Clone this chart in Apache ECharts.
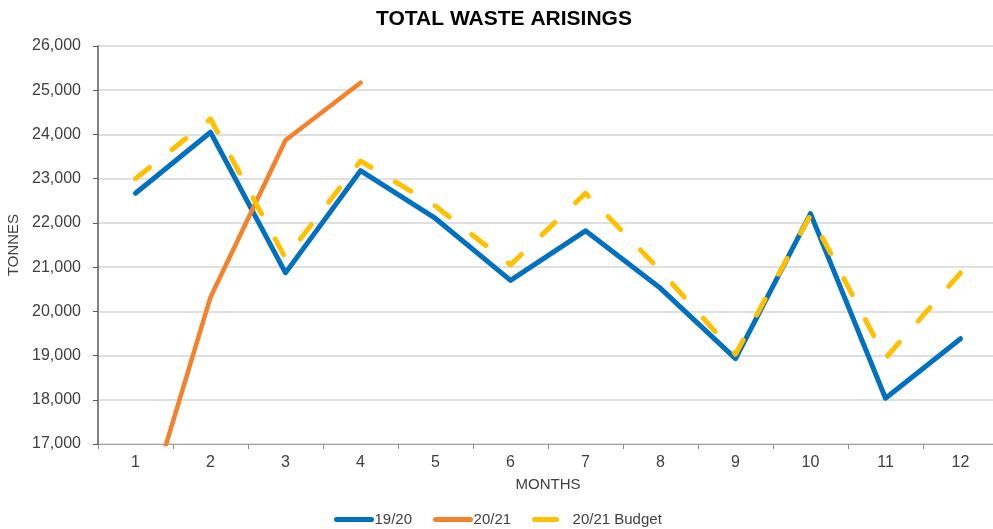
<!DOCTYPE html>
<html>
<head>
<meta charset="utf-8">
<script src="https://cdn.jsdelivr.net/npm/echarts@6/dist/echarts.min.js"></script>
<style>
  html, body { margin: 0; padding: 0; background: #ffffff; }
  #chart { width: 993px; height: 529px; }
</style>
</head>
<body>
<div id="chart"></div>
<script>
// Monthly tonnage figures
const months = ['1', '2', '3', '4', '5', '6', '7', '8', '9', '10', '11', '12'];
const actual1920 = [22670, 24050, 20870, 23180, 22100, 20700, 21820, 20520, 18930, 22210, 18035, 19380];
const actual2021 = [14700, 20320, 23870, 25170];
const budget2021 = [23000, 24350, 21200, 23400, 22380, 21050, 22670, 20920, 19030, 22180, 18940, 20870];

const FONT = '"Liberation Sans", Arial, sans-serif';
const TEXT = '#404040';

const chart = echarts.init(document.getElementById('chart'), null, { renderer: 'canvas' });

// legend keys show only the line stroke, no marker
const hiddenMarker = { opacity: 0 };

chart.setOption({
  backgroundColor: '#ffffff',
  animation: false,
  title: {
    text: 'TOTAL WASTE ARISINGS',
    left: 371,
    top: 4,
    textStyle: { fontFamily: FONT, fontSize: 21, fontWeight: 'bold', color: '#000000' }
  },
  legend: {
    left: 329,
    top: 507,
    itemWidth: 35,
    itemHeight: 14,
    itemGap: 21,
    textStyle: { fontFamily: FONT, fontSize: 15, color: TEXT, padding: [0, 0, 0, -2] },
    data: [
      { name: '19/20', itemStyle: hiddenMarker, lineStyle: { width: 5, cap: 'round', type: 'solid' } },
      { name: '20/21', itemStyle: hiddenMarker, lineStyle: { width: 5, cap: 'round', type: 'solid' } },
      { name: '20/21 Budget', itemStyle: hiddenMarker, lineStyle: { width: 5, cap: 'round', type: [22, 40] } }
    ]
  },
  grid: {
    left: 98,
    top: 46,
    bottom: 85,
    width: 900,
    containLabel: false,
    outerBoundsMode: 'none'
  },
  xAxis: {
    type: 'category',
    data: months,
    boundaryGap: true,
    name: 'MONTHS',
    nameLocation: 'middle',
    nameGap: 33,
    nameTextStyle: { fontFamily: FONT, fontSize: 15, color: TEXT, padding: [0, 0, 0, 0] },
    axisLine: { lineStyle: { color: '#a6a6a6', width: 1 } },
    axisTick: { show: true, length: 5, lineStyle: { color: '#8c8c8c' } },
    axisLabel: { fontFamily: FONT, fontSize: 16, color: TEXT, margin: 11 },
    splitLine: { show: false }
  },
  yAxis: {
    type: 'value',
    min: 17000,
    max: 26000,
    interval: 1000,
    name: 'TONNES',
    nameLocation: 'middle',
    nameGap: 75,
    nameRotate: 90,
    nameTextStyle: { fontFamily: FONT, fontSize: 15, color: TEXT },
    axisLine: { show: true, lineStyle: { color: '#595959', width: 1.5 } },
    axisTick: { show: true, length: 5, lineStyle: { color: '#595959' } },
    axisLabel: {
      fontFamily: FONT, fontSize: 16, color: TEXT, margin: 17,
      formatter: v => v.toLocaleString('en-GB')
    },
    splitLine: { show: true, lineStyle: { color: '#d6d6d6', width: 1.5 } }
  },
  series: [
    {
      name: '19/20',
      type: 'line',
      data: actual1920,
      symbol: 'none',
      color: '#0070C0',
      lineStyle: { width: 5, color: '#0070C0', cap: 'round', join: 'round' },
      z: 3
    },
    {
      name: '20/21',
      type: 'line',
      data: actual2021,
      symbol: 'none',
      clip: true,
      color: '#F5822A',
      lineStyle: { width: 4.5, color: '#F5822A', cap: 'round', join: 'round' },
      z: 4
    },
    {
      name: '20/21 Budget',
      type: 'line',
      data: budget2021,
      symbol: 'none',
      color: '#FFC000',
      lineStyle: { width: 5, color: '#FFC000', type: [18, 28.4], cap: 'round', join: 'round' },
      z: 5
    }
  ]
});
</script>
</body>
</html>
